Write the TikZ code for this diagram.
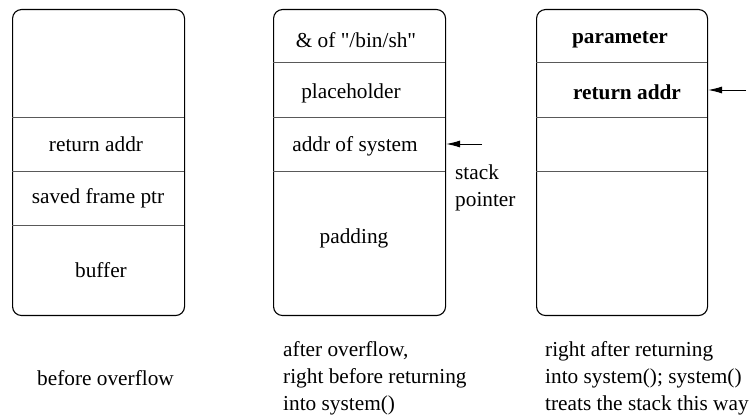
\documentclass[tikz,border=0pt]{standalone}
\usepackage{fontspec}
\newfontfamily\tms{Liberation Serif}
\usetikzlibrary{arrows.meta}
\begin{document}
\begin{tikzpicture}[x=1pt,y=-1pt,
  stackbox/.style={draw=black,line width=1.1pt,rounded corners=9pt},
  divider/.style={draw=black!65,line width=0.9pt},
  cell/.style={font=\tms\fontsize{21.3}{27}\selectfont,inner sep=0pt},
  boldcell/.style={font=\tms\fontsize{21.3}{27}\selectfont\bfseries,inner sep=0pt},
  caption/.style={font=\tms\fontsize{21.3}{27}\selectfont,align=left,anchor=west,inner sep=0pt},
  ptr/.style={-{Latex[length=14pt,width=7pt]},line width=0.9pt}]
\useasboundingbox (0,0) rectangle (752,419);
% box 1
\node[stackbox,minimum width=172pt,minimum height=306pt,anchor=north west] (b1) at (12,9) {};
\draw[divider] (12,117) -- (184,117);
\draw[divider] (12,171) -- (184,171);
\draw[divider] (12,225) -- (184,225);
\node[cell] (b1ret) at (96,144) {return addr};
\node[cell] (b1sfp) at (98,198) {saved frame ptr};
\node[cell] (b1buf) at (101,270) {buffer};
% box 2
\node[stackbox,minimum width=172pt,minimum height=306pt,anchor=north west] (b2) at (273,9) {};
\draw[divider] (273,62) -- (445,62);
\draw[divider] (273,117) -- (445,117);
\draw[divider] (273,171) -- (445,171);
\node[cell] (b2sh) at (356,40) {\& of "/bin/sh"};
\node[cell] (b2ph) at (351,93) {placeholder};
\node[cell] (b2sys) at (355,146) {addr of system};
\node[cell] (b2pad) at (354,238) {padding};
\coordinate (sp2) at (482,144);
\draw[ptr] (sp2) -- (b2.east |- sp2);
\node[caption,anchor=north west] (sptext) at (455,165) {stack\\pointer};
% box 3
\node[stackbox,minimum width=171pt,minimum height=306pt,anchor=north west] (b3) at (536,9) {};
\draw[divider] (536,62) -- (707,62);
\draw[divider] (536,117) -- (707,117);
\draw[divider] (536,171) -- (707,171);
\node[boldcell] (b3par) at (620,40) {parameter};
\node[boldcell] (b3ret) at (627,92) {return addr};
\coordinate (sp3) at (746,90);
\draw[ptr] (sp3) -- (b3.east |- sp3);
% captions
\node[caption] (c1) at (37,378) {before overflow};
\node[caption] (c2) at (283,378) {after overflow,\\right before returning\\into system()};
\node[caption] (c3) at (545,378) {right after returning\\into system(); system()\\treats the stack this way};
\end{tikzpicture}
\end{document}
